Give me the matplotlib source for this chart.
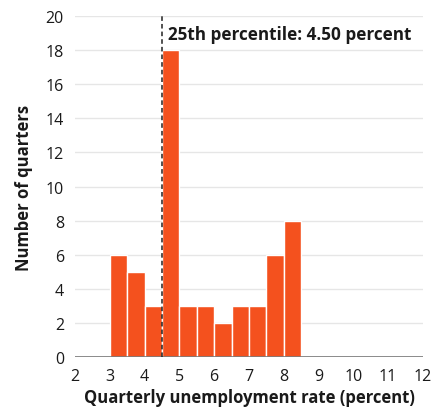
import matplotlib
matplotlib.use("Agg")
import matplotlib.pyplot as plt
import numpy as np

plt.rcParams['font.family'] = ['Open Sans', 'DejaVu Sans']

# histogram bins (left edges, width 0.5) and counts
bin_left = [3.0, 3.5, 4.0, 4.5, 5.0, 5.5, 6.0, 6.5, 7.0, 7.5, 8.0]
counts = [6, 5, 3, 18, 3, 3, 2, 3, 3, 6, 8]
bin_width = 0.5
p25 = 4.50

xticks = list(range(2, 13))
yticks = list(range(0, 21, 2))

fig = plt.figure(figsize=(4.36, 4.14), dpi=100)
ax = fig.add_axes([0.172, 0.135, 0.798, 0.824])

ax.bar(bin_left, counts, width=bin_width, align='edge', color='#F4511E',
       edgecolor='white', linewidth=1, zorder=3)

for y in yticks[1:]:
    ax.axhline(y, color='#e6e6e6', linewidth=1, zorder=1)
ax.axhline(0, color='#777777', linewidth=1.2, zorder=4)

ax.plot([p25, p25], [0, 20], color='#222222', linestyle=(0, (3, 2)),
        linewidth=1.1, zorder=5)
ax.text(p25 + 0.17, 18.95, f"25th percentile: {p25:.2f} percent",
        fontsize=12.3, fontweight='bold', color='#1a1a1a', va='center', ha='left')

ax.set_xlim(2, 12)
ax.set_ylim(0, 20)
ax.set_xticks(xticks)
ax.set_yticks(yticks)
ax.tick_params(length=0, labelsize=11.5, colors='#1a1a1a', pad=8)
for s in ax.spines.values():
    s.set_visible(False)

ax.set_xlabel("Quarterly unemployment rate (percent)", fontsize=12,
              fontweight='bold', color='#1a1a1a', labelpad=3)
ax.set_ylabel("Number of quarters", fontsize=12, fontweight='bold',
              color='#1a1a1a', labelpad=9)

fig.savefig("out.png", dpi=100)
